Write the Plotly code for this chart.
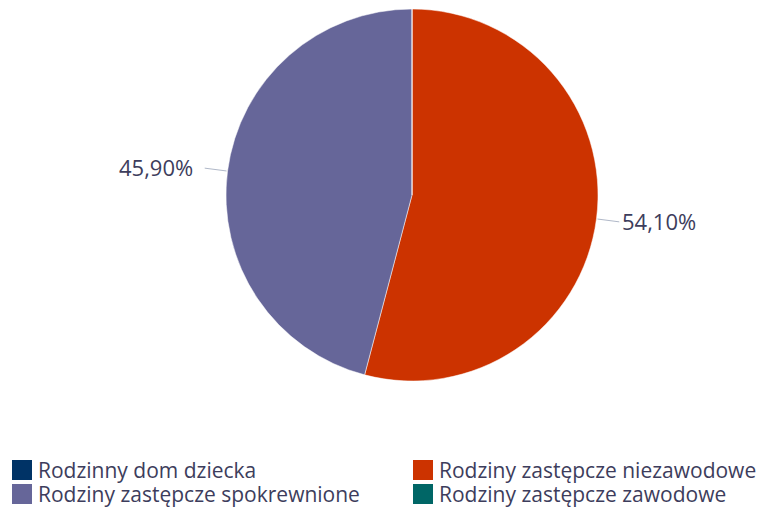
import math
import plotly.graph_objects as go

labels = ["Rodzinny dom dziecka", "Rodziny zastępcze niezawodowe",
          "Rodziny zastępcze spokrewnione", "Rodziny zastępcze zawodowe"]
values = [0, 54.10, 45.90, 0]
colors = ["#003366", "#CC3300", "#666699", "#006666"]

# the page puts the figure 8px in from the corner, so size and place for that
OFF = 8
W, H = 766 - OFF, 511 - OFF
cx, cy, r = 412 - OFF, 195 - OFF, 186
text_color = "#3d3d5c"
font_family = "Open Sans, sans-serif"

fig = go.Figure(go.Pie(
    labels=labels, values=values, sort=False, direction="clockwise",
    rotation=0, textinfo="none", hoverinfo="label+percent",
    marker=dict(colors=colors, line=dict(color="white", width=0.5)),
    domain=dict(x=[(cx - r) / W, (cx + r) / W], y=[(H - cy - r) / H, (H - cy + r) / H]),
    showlegend=False,
))

# outside labels with short leader lines
total = sum(values)
start = 0
shapes, annotations = [], []
for v in values:
    if v == 0:
        continue
    mid = (start + v / 2) / total * 2 * math.pi
    start += v
    sx, sy = math.sin(mid), -math.cos(mid)
    x0, y0 = cx + (r + 1) * sx, cy + (r + 1) * sy
    x1, y1 = cx + (r + 23) * sx, cy + (r + 23) * sy
    shapes.append(dict(type="line", xref="paper", yref="paper",
                       x0=x0 / W, y0=1 - y0 / H, x1=x1 / W, y1=1 - y1 / H,
                       line=dict(color="#b0b8c8", width=1)))
    annotations.append(dict(
        x=(x1 + (1 if sx > 0 else -10)) / W, y=1 - (y1 - 1) / H, xref="paper", yref="paper",
        text=f"{v:.2f}%".replace(".", ","), showarrow=False,
        xanchor="left" if sx > 0 else "right", yanchor="middle",
        font=dict(size=22, color=text_color, family=font_family)))

# legend, two columns
for i, (lab, col) in enumerate(zip(labels, colors)):
    lx = 12 - OFF + (i % 2) * 401
    ly = 460 - OFF + (i // 2) * 24
    shapes.append(dict(type="rect", xref="paper", yref="paper",
                       x0=lx / W, x1=(lx + 20) / W, y0=1 - ly / H, y1=1 - (ly + 20) / H,
                       fillcolor=col, line=dict(width=0)))
    annotations.append(dict(
        x=(lx + 24) / W, y=1 - (ly + 10) / H, xref="paper", yref="paper",
        text=lab, showarrow=False, xanchor="left", yanchor="middle",
        font=dict(size=21, color=text_color, family=font_family)))

fig.update_layout(
    width=W, height=H,
    margin=dict(l=0, r=0, t=0, b=0),
    paper_bgcolor="white", plot_bgcolor="white",
    shapes=shapes, annotations=annotations,
)

fig.write_html("out.html")
